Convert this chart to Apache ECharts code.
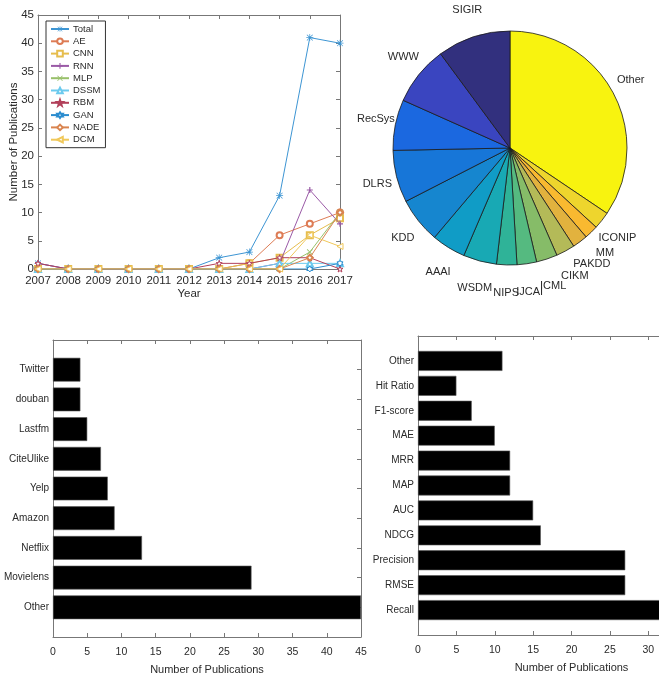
<!DOCTYPE html>
<html><head><meta charset="utf-8">
<script src="https://cdn.jsdelivr.net/npm/echarts@6/dist/echarts.min.js"></script>
<style>html,body{margin:0;padding:0;background:#fff;overflow:hidden}#c{width:740px;height:673px}</style>
</head><body><div id="c"></div>
<script>
// ---- Top-left: publications per year ----
const years = [2007,2008,2009,2010,2011,2012,2013,2014,2015,2016,2017];
const seriesNames = ['Total','AE','CNN','RNN','MLP','DSSM','RBM','GAN','NADE','DCM'];
const total = [1,0,0,0,0,0,2,3,13,41,40];
const ae    = [0,0,0,0,0,0,0,1,6,8,10];
const cnn   = [0,0,0,0,0,0,0,1,2,6,9];
const rnn   = [1,0,0,0,0,0,0,0,1,14,8];
const mlp   = [0,0,0,0,0,0,0,0,0,3,10];
const dssm  = [0,0,0,0,0,0,0,0,1,1,1];
const rbm   = [1,0,0,0,0,0,1,1,2,2,0];
const gan   = [0,0,0,0,0,0,0,0,0,0,1];
const nade  = [0,0,0,0,0,0,0,0,0,2,10];
const dcm   = [0,0,0,0,0,0,0,0,0,6,4];
const lineValues = [total, ae, cnn, rnn, mlp, dssm, rbm, gan, nade, dcm];

// ---- Top-right: venues ----
const venues = ['Other','ICONIP','MM','PAKDD','CIKM','ICML','IJCAI','NIPS','WSDM','AAAI','KDD','DLRS','RecSys','WWW','SIGIR'];
const venueShare = [34.4,2.4,1.9,2.1,2.6,2.9,2.7,2.8,4.6,4.7,6.3,7.2,7.0,8.2,10.1];

// ---- Bottom-left: datasets (bottom to top) ----
const datasets = ['Other','Movielens','Netflix','Amazon','Yelp','CiteUlike','Lastfm','douban','Twitter'];
const datasetCounts = [45,29,13,9,8,7,5,4,4];

// ---- Bottom-right: metrics (bottom to top) ----
const metrics = ['Recall','RMSE','Precision','NDCG','AUC','MAP','MRR','MAE','F1-score','Hit Ratio','Other'];
const metricCounts = [37,27,27,16,15,12,12,10,7,5,11];

const FONT = '"Liberation Sans", Arial, sans-serif';
const lineColors = ['#3d95d3','#dd7c55','#e6bd4e','#9a5aa6','#98c06a','#6ccaee','#b2405a','#2a8ccf','#d9844f','#f0c85a'];
const P = {
  plus: 'path://M4,0H6V4H10V6H6V10H4V6H0V4H4Z',
  cross: 'path://M1,0L5,4L9,0L10,1L6,5L10,9L9,10L5,6L1,10L0,9L4,5L0,1Z',
  aster: 'path://M4.5,0H5.5V4.5H10V5.5H5.5V10H4.5V5.5H0V4.5H4.5Z M1.2,0.5L5,4.3L8.8,0.5L9.5,1.2L5.7,5L9.5,8.8L8.8,9.5L5,5.7L1.2,9.5L0.5,8.8L4.3,5L0.5,1.2Z',
  star: 'path://M5,0L6.2,3.6L10,3.6L7,5.9L8.1,9.5L5,7.3L1.9,9.5L3,5.9L0,3.6L3.8,3.6Z',
  hexa: 'path://M5,0L6.4,2.5L9.3,2.5L7.9,5L9.3,7.5L6.4,7.5L5,10L3.6,7.5L0.7,7.5L2.1,5L0.7,2.5L3.6,2.5Z',
  left: 'path://M0,5L10,0L10,10Z'
};
const symbols = [P.aster,'emptyCircle','emptyRect',P.plus,P.cross,'emptyTriangle',P.star,P.hexa,'emptyDiamond',P.left];
const filledPath = [true,false,false,true,true,false,false,false,false,false];

const pieColors = ['#f8f30f','#eed52d','#f9b930','#e2b23e','#b4ba58','#86bc68','#55ba80','#2fb398','#18a9b4','#109cc6','#1686cf','#1776d8','#1b68e0','#3a45c0','#32307e'];
const PIE_C = [510,148], PIE_R = 117;

const axisCol = '#777';
const txtCol = '#2a2a2a';
const OB = {outerBoundsMode:'none', containLabel:false};

const grids = [], xAxes = [], yAxes = [];

// MATLAB-like boxed axes: bottom/left carry labels, top/right only ticks; all ticks inward
function addFrame(rect, xr, yr, opt){
  const gi = grids.length;
  grids.push(Object.assign({left:rect.left, top:rect.top, width:rect.width, height:rect.height}, OB));
  const base = (r)=>({type:'value', gridIndex:gi, min:r[0], max:r[1], interval:r[2], splitLine:{show:false}});
  const line = {show:true, onZero:false, lineStyle:{color:axisCol, width:1}};
  const tick = {show:true, inside:true, length:4, lineStyle:{color:axisCol}};
  const xMain = xAxes.length;
  xAxes.push(Object.assign(base(xr), {position:'bottom', axisLine:line, axisTick:tick,
    axisLabel: opt.xLabel, name: opt.xName || '', nameLocation:'middle', nameGap: opt.xNameGap, nameMoveOverlap:false,
    nameTextStyle:{color:txtCol, fontFamily:FONT, fontSize: opt.nameSize}}));
  xAxes.push(Object.assign(base(xr), {position:'top', axisLine:line, axisTick:tick, axisLabel:{show:false}}));
  const yMain = yAxes.length;
  yAxes.push(Object.assign(base(yr), {position:'left', axisLine:line, axisTick:tick,
    axisLabel: opt.yLabel || {show:false}, name: opt.yName || '', nameLocation:'middle', nameGap: opt.yNameGap || 0, nameMoveOverlap:false,
    nameTextStyle:{color:txtCol, fontFamily:FONT, fontSize: opt.nameSize}}));
  yAxes.push(Object.assign(base(yr), {position:'right', axisLine:line, axisTick:tick, axisLabel:{show:false}}));
  return {gi, xMain, yMain};
}

// Top-left line chart frame
const TL = addFrame({left:38, top:15, width:302, height:254}, [2007,2017,1], [0,45,5], {
  xLabel:{color:txtCol, fontFamily:FONT, fontSize:11.5, margin:6, formatter:v=>String(v)},
  xName:'Year', xNameGap:18.5,
  yLabel:{color:txtCol, fontFamily:FONT, fontSize:11.5, margin:4},
  yName:'Number of Publications', yNameGap:18.5, nameSize:11.5
});

// Bottom-left frame + bar grid
const BLr = {left:53, top:340, width:308, height:297};
addFrame(BLr, [0,45,5], [0,10,1], {
  xLabel:{color:txtCol, fontFamily:FONT, fontSize:10.5, margin:10},
  xName:'Number of Publications', xNameGap:27, nameSize:11
});
grids.push(Object.assign({left:BLr.left, top:BLr.top + BLr.height/10*0.5, width:BLr.width, height:BLr.height/10*9}, OB));
const blX = xAxes.length, blY = yAxes.length;
xAxes.push({type:'value', gridIndex:grids.length-1, min:0, max:45, show:false});
yAxes.push({type:'category', gridIndex:grids.length-1, data:datasets, axisLine:{show:false, onZero:false}, axisTick:{show:false},
  axisLabel:{color:txtCol, fontFamily:FONT, fontSize:10, margin:4}});

// Bottom-right frame + bar grid (axis runs past the right edge of the picture)
const BRr = {left:418, top:336, width:307, height:299};
addFrame(BRr, [0,40,5], [0,12,1], {
  xLabel:{color:txtCol, fontFamily:FONT, fontSize:10.5, margin:10},
  xName:'Number of Publications', xNameGap:27, nameSize:11
});
grids.push(Object.assign({left:BRr.left, top:BRr.top + BRr.height/12*0.5, width:BRr.width, height:BRr.height/12*11}, OB));
const brX = xAxes.length, brY = yAxes.length;
xAxes.push({type:'value', gridIndex:grids.length-1, min:0, max:40, show:false});
yAxes.push({type:'category', gridIndex:grids.length-1, data:metrics, axisLine:{show:false, onZero:false}, axisTick:{show:false},
  axisLabel:{color:txtCol, fontFamily:FONT, fontSize:10, margin:4}});

const lineSeries = seriesNames.map((n,i)=>{
  const s = {
    name:n, type:'line', xAxisIndex:TL.xMain, yAxisIndex:TL.yMain,
    data: years.map((y,k)=>[y, lineValues[i][k]]),
    symbol: symbols[i], symbolSize: (i===0?7:6), showSymbol:true,
    lineStyle:{color:lineColors[i], width:1},
    itemStyle:{color:lineColors[i]},
    z: 2+i
  };
  if (symbols[i].startsWith('path://') && !filledPath[i]) {
    s.itemStyle = {color:'#fff', borderColor:lineColors[i], borderWidth:1};
  }
  return s;
});

const shareSum = venueShare.reduce((a,b)=>a+b,0);
function pieLabelPos(idx){
  let before = 0;
  for (let k=0;k<idx;k++) before += venueShare[k];
  const mid = (before + venueShare[idx]/2)/shareSum*2*Math.PI;
  return {x: PIE_C[0] + 1.2*114*Math.sin(mid), y: PIE_C[1] - 1.2*121*Math.cos(mid)};
}

const option = {
  animation:false,
  backgroundColor:'#fff',
  textStyle:{fontFamily:FONT},
  grid: grids,
  xAxis: xAxes,
  yAxis: yAxes,
  legend: {
    data: seriesNames, orient:'vertical', left:46, top:21,
    backgroundColor:'#fff', borderColor:'#333', borderWidth:1, borderRadius:0,
    padding:[3,5,3,4], itemWidth:18, itemHeight:7, itemGap:2.3,
    textStyle:{color:txtCol, fontFamily:FONT, fontSize:9.5, lineHeight:10, padding:[0,0,0,-1]}
  },
  series: [
    ...lineSeries,
    {type:'pie', center:PIE_C, radius:PIE_R, startAngle:90, clockwise:true,
     avoidLabelOverlap:false, silent:true,
     data: venues.map((v,i)=>({name:v, value:venueShare[i], itemStyle:{color:pieColors[i]}})),
     itemStyle:{borderColor:'#1a1a1a', borderWidth:0.8},
     label:{show:true, position:'outside', color:txtCol, fontFamily:FONT, fontSize:11, formatter:'{b}'},
     labelLine:{show:false, length:5, length2:0},
     labelLayout: function(params){
       const p = pieLabelPos(params.dataIndex);
       return {x:p.x, y:p.y, align:'center', verticalAlign:'middle', hideOverlap:false, moveOverlap:false};
     }},
    {type:'bar', xAxisIndex:blX, yAxisIndex:blY, data:datasetCounts, barWidth:'80%',
     itemStyle:{color:'#000', borderColor:'#555', borderWidth:0.6}},
    {type:'bar', xAxisIndex:brX, yAxisIndex:brY, data:metricCounts, barWidth:'80%',
     itemStyle:{color:'#000', borderColor:'#555', borderWidth:0.6}}
  ]
};
echarts.init(document.getElementById('c')).setOption(option);
</script>
</body></html>
